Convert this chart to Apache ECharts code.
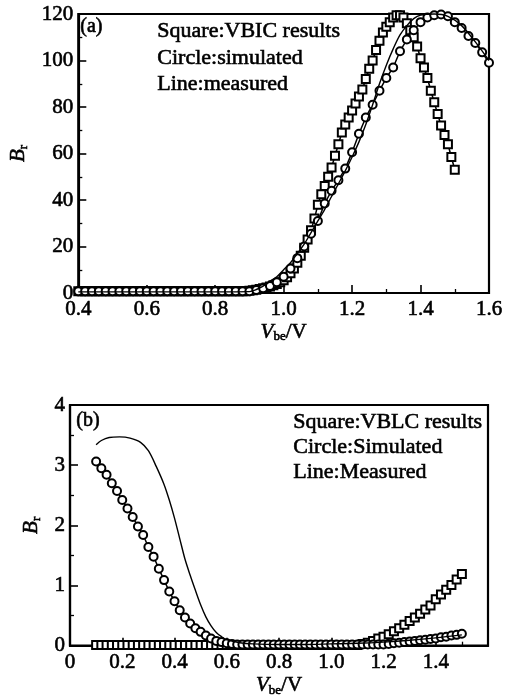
<!DOCTYPE html>
<html>
<head>
<meta charset="utf-8">
<script src="https://cdn.jsdelivr.net/npm/echarts@6/dist/echarts.min.js"></script>
<style>
  html, body { margin: 0; padding: 0; background: #fff; }
  #chart { width: 514px; height: 698px; }
</style>
</head>
<body>
<div id="chart"></div>
<script>
// ---- Panel (a): Br versus Vbe ----
// square markers (VBIC results), sampled every 0.01 V from 0.40 V
const aSquareStart = 0.40, aSquareStep = 0.01;
const aSquare = [
  0.8,0.8,0.8,0.8,0.8,0.8,0.8,0.8,0.8,0.8,
  0.8,0.8,0.8,0.8,0.8,0.8,0.8,0.8,0.8,0.8,
  0.8,0.8,0.8,0.8,0.8,0.8,0.8,0.8,0.8,0.8,
  0.8,0.8,0.8,0.8,0.8,0.8,0.8,0.8,0.8,0.8,
  0.8,0.8,0.8,0.8,0.8,0.8,0.8,0.8,0.8,0.8,
  1.0,1.2,1.4,1.7,2.0,2.4,2.8,3.3,3.9,4.6,
  5.5,6.8,8.5,10.5,13,16,19.5,23,27,32,
  38,42.5,46,50,54,59,64,69,72.5,75.5,
  78.5,81.5,84.5,87.5,92,96.5,100,104.5,108.5,112,
  114.5,116.5,118.5,119.5,119.5,118.5,116,113,110,106,
  101,97,92.5,87,82,77,72,68,64,58.5,
  53
];
// circle markers (simulated), sampled every 0.02 V from 0.40 V
const aCircleStart = 0.40, aCircleStep = 0.02;
const aCircle = [
  0.8,0.8,0.8,0.8,0.8,0.8,0.8,0.8,0.8,0.8,
  0.8,0.8,0.8,0.8,0.8,0.8,0.8,0.8,0.8,0.8,
  0.8,0.8,0.8,0.8,0.8,0.8,
  1.3,2.0,3.0,4.6,7.0,10.5,15,20,25.5,31,
  38.5,44,48.5,53.5,60.5,68.5,75.5,81,87,92.5,
  97,104,109,113,116.5,118.5,119.5,119.8,119,116.5,
  114,110.5,107.5,103.5,99
];
// measured curve
const aMeasuredV = [0.40,0.50,0.60,0.70,0.80,0.90,0.92,0.94,0.96,0.98,1.00,1.02,1.04,1.06,1.08,1.10,1.12,1.14,1.16,1.18,1.20,1.22,1.24,1.26,1.28,1.30,1.32,1.34,1.36,1.38,1.40,1.44,1.48,1.52,1.56,1.60];
const aMeasured  = [0.5,0.5,0.5,0.5,0.5,0.6,1.5,3,5,7,10,13,17,21,26,31,36,41.5,47,52.5,58.5,65,72.5,81,90,98,105,111,115,118,119.5,120,119,115,108,100];

// ---- Panel (b): Br versus Vbe ----
const bSquareStart = 0.10, bSquareStep = 0.02;
const bSquare = [
  0.01,0.01,0.01,0.01,0.01,0.01,0.01,0.01,0.01,0.01,
  0.01,0.01,0.01,0.01,0.01,0.01,0.01,0.01,0.01,0.01,
  0.01,0.01,0.01,0.01,0.01,0.01,0.01,0.01,0.01,0.01,
  0.01,0.01,0.01,0.01,0.01,0.01,0.01,0.01,0.01,0.01,
  0.01,0.01,0.01,0.01,0.01,0.01,0.01,0.01,0.01,0.01,
  0.01,
  0.03,0.05,0.08,0.12,0.15,0.19,0.24,0.29,0.35,0.41,
  0.47,0.53,0.60,0.67,0.77,0.85,0.93,1.01,1.10,1.19
];
const bCircleStart = 0.10, bCircleStep = 0.02;
const bCircle = [
  3.06,2.95,2.84,2.70,2.57,2.42,2.28,2.14,1.98,1.84,
  1.64,1.48,1.28,1.09,0.90,0.74,0.59,0.47,0.37,0.29,
  0.23,0.17,0.12,0.08,0.06,0.04,0.03,
  0.02,0.02,0.02,0.02,0.02,0.02,0.02,0.02,0.02,0.02,
  0.02,0.02,0.02,0.02,0.02,0.02,0.02,0.02,0.02,0.02,
  0.02,0.02,0.02,0.02,0.02,0.02,0.02,0.02,0.02,
  0.03,0.04,0.05,0.06,0.07,0.08,0.09,0.10,0.11,0.12,
  0.14,0.15,0.17,0.18,0.20
];
const bMeasuredV = [0.10,0.12,0.15,0.19,0.23,0.27,0.30,0.33,0.36,0.38,0.40,0.42,0.44,0.46,0.48,0.50,0.52,0.54,0.56,0.58,0.60,0.65,0.70,0.80,0.90,1.00,1.10,1.20,1.30,1.40,1.50];
const bMeasured  = [3.34,3.41,3.46,3.47,3.45,3.38,3.24,2.98,2.68,2.42,2.12,1.78,1.44,1.17,0.92,0.68,0.48,0.33,0.22,0.15,0.10,0.05,0.03,0.02,0.02,0.03,0.04,0.06,0.09,0.13,0.18];

// tick labels
const aXTicks = ['0.4','0.6','0.8','1.0','1.2','1.4','1.6'];
const bXTicks = ['0','0.2','0.4','0.6','0.8','1.0','1.2','1.4'];

// pair a regularly sampled list with its voltage grid
function sampled(start, step, vals) {
  return vals.map((v, i) => [Math.round((start + i * step) * 1000) / 1000, v]);
}
function paired(xs, ys) { return xs.map((x, i) => [x, ys[i]]); }

const FONT = 'Liberation Serif';
const black = '#000';
// thin outline to give the printed, heavy type look
const INK = { textBorderColor: black, textBorderWidth: 0.6 };

function xAxisCfg(grid, min, max, labels, nameGap) {
  return {
    gridIndex: grid, type: 'value', min: min, max: max, interval: 0.2,
    axisLine: { show: true, lineStyle: { color: black, width: 2.2 } },
    axisTick: { show: true, inside: true, length: 8, lineStyle: { color: black, width: 1.6 } },
    minorTick: { show: true, splitNumber: 2, length: 4, lineStyle: { color: black, width: 1.3 } },
    splitLine: { show: false },
    axisLabel: Object.assign({
      color: black, fontFamily: FONT, fontSize: 21, margin: 6,
      formatter: function (v) {
        const s = v.toFixed(v === 0 ? 0 : 1);
        return labels.indexOf(s) >= 0 ? s : '';
      }
    }, INK),
    name: '{i|V}{s|be}{n|/V}',
    nameLocation: 'middle', nameGap: nameGap,
    nameTextStyle: {
      color: black,
      rich: {
        i: Object.assign({ fontFamily: FONT, fontStyle: 'italic', fontSize: 21, color: black, verticalAlign: 'top', lineHeight: 22 }, INK),
        s: Object.assign({ fontFamily: FONT, fontSize: 13, color: black, verticalAlign: 'bottom', lineHeight: 22 }, INK),
        n: Object.assign({ fontFamily: FONT, fontSize: 21, color: black, verticalAlign: 'top', lineHeight: 22 }, INK)
      }
    }
  };
}
function yAxisCfg(grid, max, interval, nameGap) {
  return {
    gridIndex: grid, type: 'value', min: 0, max: max, interval: interval,
    axisLine: { show: true, lineStyle: { color: black, width: 2.2 } },
    axisTick: { show: true, inside: true, length: 8, lineStyle: { color: black, width: 1.6 } },
    minorTick: { show: true, splitNumber: 2, length: 4, lineStyle: { color: black, width: 1.3 } },
    splitLine: { show: false },
    axisLabel: Object.assign({ color: black, fontFamily: FONT, fontSize: 21, margin: 5 }, INK),
    name: '{i|B}{s|r}',
    nameLocation: 'middle', nameGap: nameGap, nameRotate: 90,
    nameTextStyle: {
      color: black,
      rich: {
        i: Object.assign({ fontFamily: FONT, fontStyle: 'italic', fontSize: 21, color: black, verticalAlign: 'top', lineHeight: 22 }, INK),
        s: Object.assign({ fontFamily: FONT, fontSize: 13, color: black, verticalAlign: 'bottom', lineHeight: 22 }, INK)
      }
    }
  };
}

function markerSeries(xi, yi, data, symbol, size) {
  return {
    type: 'line', xAxisIndex: xi, yAxisIndex: yi, data: data,
    symbol: symbol, symbolSize: size, showSymbol: true, clip: false,
    lineStyle: { color: black, width: 1.5 },
    itemStyle: { color: '#fff', borderColor: black, borderWidth: 2 },
    z: 2
  };
}
function measuredSeries(xi, yi, data) {
  return {
    type: 'line', xAxisIndex: xi, yAxisIndex: yi, data: data,
    symbol: 'none', smooth: 0.3, clip: false,
    lineStyle: { color: black, width: 1.4 }, z: 3
  };
}

function note(left, top, text, size) {
  return { type: 'text', left: left, top: top, z: 10,
    style: { text: text, fill: black, stroke: black, lineWidth: 0.6, font: size + 'px "' + FONT + '"' } };
}

const chart = echarts.init(document.getElementById('chart'), null, { renderer: 'canvas' });
chart.setOption({
  animation: false,
  backgroundColor: '#fff',
  grid: [
    { left: 76, top: 14, width: 413, height: 279, show: true, borderColor: black, borderWidth: 2.2, backgroundColor: 'transparent' },
    { left: 70, top: 405, width: 418, height: 242, show: true, borderColor: black, borderWidth: 2.2, backgroundColor: 'transparent' }
  ],
  xAxis: [ xAxisCfg(0, 0.4, 1.6, aXTicks, 17), xAxisCfg(1, 0, 1.6, bXTicks, 29) ],
  yAxis: [ yAxisCfg(0, 120, 20, 36), yAxisCfg(1, 4, 1, 25) ],
  series: [
    markerSeries(0, 0, sampled(aSquareStart, aSquareStep, aSquare), 'rect', 8),
    markerSeries(0, 0, sampled(aCircleStart, aCircleStep, aCircle), 'circle', 8),
    measuredSeries(0, 0, paired(aMeasuredV, aMeasured)),
    markerSeries(1, 1, sampled(bSquareStart, bSquareStep, bSquare), 'rect', 8),
    markerSeries(1, 1, sampled(bCircleStart, bCircleStep, bCircle), 'circle', 8),
    measuredSeries(1, 1, paired(bMeasuredV, bMeasured))
  ],
  graphic: [
    note(80, 16, '(a)', 20),
    note(157, 20, 'Square:VBIC results', 22),
    note(157, 47, 'Circle:simulated', 22),
    note(157, 73, 'Line:measured', 22),
    note(76, 410, '(b)', 20),
    note(293, 411, 'Square:VBLC results', 22),
    note(293, 436, 'Circle:Simulated', 22),
    note(293, 461, 'Line:Measured', 22)
  ]
});
</script>
</body>
</html>
